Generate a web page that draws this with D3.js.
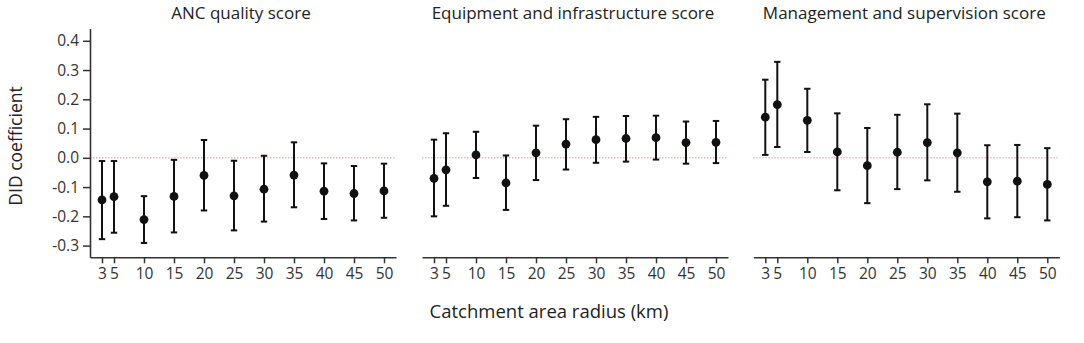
<!DOCTYPE html>
<html>
<head>
<meta charset="utf-8">
<script src="https://cdn.jsdelivr.net/npm/d3@7/dist/d3.min.js"></script>
<style>
  html, body { margin: 0; padding: 0; background: #fff; }
  svg { display: block; }
</style>
</head>
<body>
<div id="chart"></div>
<script>
// DID coefficients by catchment radius — three facet panels, point + 95% CI

const RADII = [3, 5, 10, 15, 20, 25, 30, 35, 40, 45, 50];
const Y_TICKS = [-0.3, -0.2, -0.1, 0.0, 0.1, 0.2, 0.3, 0.4];
const PANEL_TITLES = ['ANC quality score', 'Equipment and infrastructure score', 'Management and supervision score'];

// ANC quality score
const ANC_EST = [-0.144, -0.133, -0.211, -0.132, -0.060, -0.130, -0.107, -0.059, -0.114, -0.122, -0.113];
const ANC_LO  = [-0.278, -0.256, -0.291, -0.255, -0.180, -0.248, -0.218, -0.169, -0.209, -0.214, -0.205];
const ANC_HI  = [-0.011, -0.011, -0.131, -0.007,  0.061, -0.010,  0.007,  0.053, -0.019, -0.028, -0.020];

// Equipment and infrastructure score
const EQP_EST = [-0.070, -0.041,  0.010, -0.086,  0.017,  0.047,  0.062,  0.066,  0.069,  0.052,  0.053];
const EQP_LO  = [-0.200, -0.164, -0.069, -0.178, -0.076, -0.040, -0.017, -0.013, -0.006, -0.020, -0.018];
const EQP_HI  = [ 0.062,  0.084,  0.089,  0.008,  0.110,  0.132,  0.140,  0.143,  0.144,  0.124,  0.126];

// Management and supervision score
const MGT_EST = [ 0.139,  0.182,  0.128,  0.020, -0.027,  0.019,  0.052,  0.017, -0.082, -0.080, -0.091];
const MGT_LO  = [ 0.010,  0.037,  0.020, -0.111, -0.155, -0.107, -0.077, -0.116, -0.207, -0.203, -0.214];
const MGT_HI  = [ 0.267,  0.328,  0.236,  0.152,  0.102,  0.147,  0.183,  0.151,  0.043,  0.044,  0.033];

const SERIES = [
  { est: ANC_EST, lo: ANC_LO, hi: ANC_HI },
  { est: EQP_EST, lo: EQP_LO, hi: EQP_HI },
  { est: MGT_EST, lo: MGT_LO, hi: MGT_HI },
];

const W = 1084, H = 343;
const INK  = '#111';
const AXIS = '#333';
const REF  = '#e29aa6';
const FONT = "'Open Sans', 'Noto Sans', sans-serif";

const PANEL_LEFT  = [90, 422, 753.3];
const PANEL_WIDTH = 306;
const TOP = 28.5, BOTTOM = 257.3;

const svg = d3.select('#chart').append('svg')
  .attr('width', W).attr('height', H)
  .style('font-family', FONT);

const y = d3.scaleLinear().domain([-0.34, 0.442]).range([BOTTOM, TOP]);
const fmt = v => d3.format('.1f')(v).replace('−', '-');

SERIES.forEach((s, i) => {
  const x = d3.scaleLinear()
    .domain([1, 52])
    .range([PANEL_LEFT[i], PANEL_LEFT[i] + PANEL_WIDTH]);

  const g = svg.append('g');

  // title
  g.append('text')
    .attr('x', (x.range()[0] + x.range()[1]) / 2 - 2)
    .attr('y', 19)
    .attr('text-anchor', 'middle')
    .attr('font-size', 17)
    .attr('fill', '#222')
    .text(PANEL_TITLES[i]);

  // dotted zero reference
  g.append('line')
    .attr('x1', x.range()[0]).attr('x2', x.range()[1])
    .attr('y1', y(0)).attr('y2', y(0))
    .attr('stroke', REF).attr('stroke-width', 1)
    .attr('stroke-dasharray', '1.5,1.5');

  // x axis
  const xAxis = g.append('g')
    .attr('transform', `translate(0,${BOTTOM})`)
    .call(d3.axisBottom(x).tickValues(RADII).tickSize(6).tickPadding(5).tickSizeOuter(0));
  xAxis.select('.domain').attr('stroke', AXIS).attr('stroke-width', 1.6);
  xAxis.selectAll('.tick line').attr('stroke', AXIS).attr('stroke-width', 1.5);
  xAxis.selectAll('.tick text')
    .attr('font-size', 15.5).attr('font-family', FONT).attr('fill', '#333');

  // y axis only on first panel
  if (i === 0) {
    const yAxis = g.append('g')
      .attr('transform', `translate(${x.range()[0]},0)`)
      .call(d3.axisLeft(y).tickValues(Y_TICKS).tickFormat(fmt).tickSize(7).tickPadding(4).tickSizeOuter(0));
    yAxis.select('.domain').attr('stroke', AXIS).attr('stroke-width', 1.6);
    yAxis.selectAll('.tick line').attr('stroke', AXIS).attr('stroke-width', 1.5);
    yAxis.selectAll('.tick text')
      .attr('font-size', 15.5).attr('font-family', FONT).attr('fill', '#333');
  }

  const rows = RADII.map((r, k) => ({ r, est: s.est[k], lo: s.lo[k], hi: s.hi[k] }));

  const bars = g.append('g').selectAll('g').data(rows).join('g');
  bars.append('line')
    .attr('x1', d => x(d.r)).attr('x2', d => x(d.r))
    .attr('y1', d => y(d.lo)).attr('y2', d => y(d.hi))
    .attr('stroke', INK).attr('stroke-width', 2);
  bars.selectAll('line.cap')
    .data(d => [d.lo, d.hi].map(v => ({ r: d.r, v })))
    .join('line')
    .attr('class', 'cap')
    .attr('x1', d => x(d.r) - 3.2).attr('x2', d => x(d.r) + 3.2)
    .attr('y1', d => y(d.v)).attr('y2', d => y(d.v))
    .attr('stroke', INK).attr('stroke-width', 2);
  bars.append('circle')
    .attr('cx', d => x(d.r)).attr('cy', d => y(d.est))
    .attr('r', 4.4)
    .attr('fill', INK);
});

// shared axis labels
svg.append('text')
  .attr('transform', 'translate(22,146) rotate(-90)')
  .attr('text-anchor', 'middle')
  .attr('font-size', 17.5)
  .attr('fill', '#222')
  .text('DID coefficient');

svg.append('text')
  .attr('x', 549).attr('y', 318)
  .attr('text-anchor', 'middle')
  .attr('font-size', 18.5)
  .attr('fill', '#222')
  .text('Catchment area radius (km)');
</script>
</body>
</html>
